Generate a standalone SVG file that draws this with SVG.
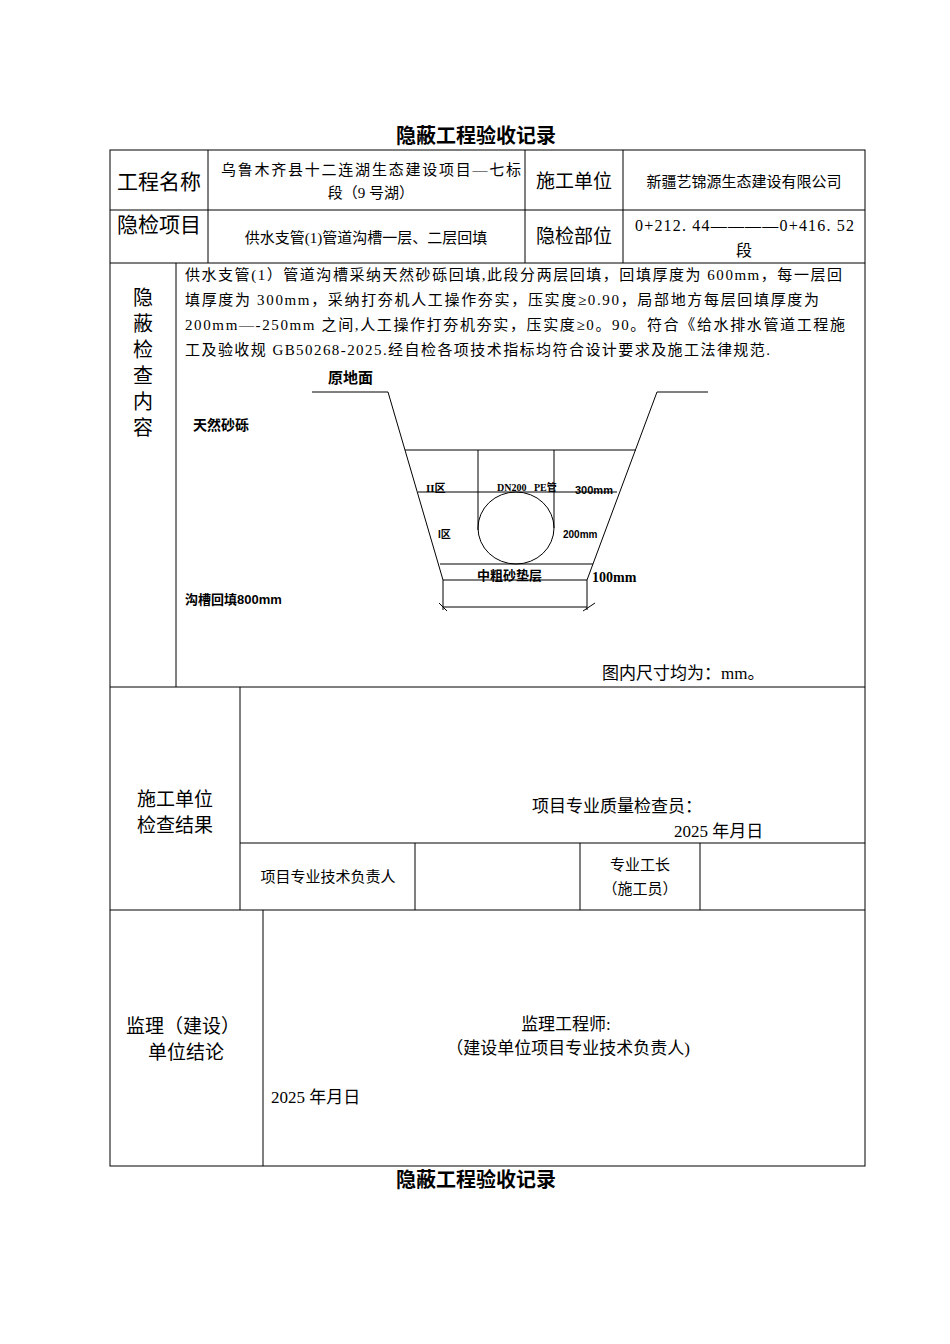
<svg xmlns="http://www.w3.org/2000/svg" width="950" height="1344" viewBox="0 0 950 1344">
<style>
.s{font-family:"Liberation Serif","Noto Sans CJK SC",serif;fill:#000}
.b{font-family:"Liberation Sans","Noto Sans CJK SC",sans-serif;font-weight:bold;fill:#000}
.l{stroke:#000;stroke-width:1;fill:none}
</style>
<rect width="950" height="1344" fill="#fff"/>
<text class="s" x="476" y="143" font-size="20" font-weight="bold" text-anchor="middle">隐蔽工程验收记录</text>
<g id="table" class="l">
<rect x="110" y="150" width="755" height="1016"/>
<line x1="110" y1="210" x2="865" y2="210"/>
<line x1="110" y1="263" x2="865" y2="263"/>
<line x1="110" y1="687" x2="865" y2="687"/>
<line x1="240" y1="843" x2="865" y2="843"/>
<line x1="110" y1="910" x2="865" y2="910"/>
<line x1="208" y1="150" x2="208" y2="263"/>
<line x1="525" y1="150" x2="525" y2="263"/>
<line x1="623" y1="150" x2="623" y2="263"/>
<line x1="176" y1="263" x2="176" y2="687"/>
<line x1="240" y1="687" x2="240" y2="910"/>
<line x1="415" y1="843" x2="415" y2="910"/>
<line x1="580" y1="843" x2="580" y2="910"/>
<line x1="700" y1="843" x2="700" y2="910"/>
<line x1="263" y1="910" x2="263" y2="1166"/>
</g>
<g id="texts" class="s">
<text x="159" y="189" font-size="21" text-anchor="middle">工程名称</text>
<text x="221" y="175" font-size="15" textLength="300">乌鲁木齐县十二连湖生态建设项目—七标</text>
<text x="371" y="198" font-size="15" text-anchor="middle">段（9 号湖）</text>
<text x="574" y="188" font-size="19" text-anchor="middle">施工单位</text>
<text x="744" y="187" font-size="15" text-anchor="middle">新疆艺锦源生态建设有限公司</text>
<text x="159" y="232" font-size="21" text-anchor="middle">隐检项目</text>
<text x="366" y="243" font-size="15" text-anchor="middle">供水支管(1)管道沟槽一层、二层回填</text>
<text x="574" y="243" font-size="19" text-anchor="middle">隐检部位</text>
<text x="635" y="231" font-size="16" textLength="219">0+212. 44————0+416. 52</text>
<text x="744" y="256" font-size="16" text-anchor="middle">段</text>
<g font-size="20" text-anchor="middle"><text x="143" y="305">隐</text><text x="143" y="331">蔽</text><text x="143" y="357">检</text><text x="143" y="383">查</text><text x="143" y="409">内</text><text x="143" y="435">容</text></g>
<g font-size="15"><text x="185" y="280" textLength="657">供水支管(1）管道沟槽采纳天然砂砾回填,此段分两层回填，回填厚度为 600mm，每一层回</text>
<text x="185" y="305" textLength="634">填厚度为 300mm，采纳打夯机人工操作夯实，压实度≥0.90，局部地方每层回填厚度为</text>
<text x="185" y="330" textLength="660">200mm—-250mm 之间,人工操作打夯机夯实，压实度≥0。90。符合《给水排水管道工程施</text>
<text x="185" y="355" textLength="585">工及验收规 GB50268-2025.经自检各项技术指标均符合设计要求及施工法律规范.</text></g>
<text x="602" y="679" font-size="17">图内尺寸均为：mm。</text>
<text x="175" y="806" font-size="19" text-anchor="middle">施工单位</text>
<text x="175" y="832" font-size="19" text-anchor="middle">检查结果</text>
<text x="532" y="812" font-size="17">项目专业质量检查员：</text>
<text x="674" y="837" font-size="17">2025 年月日</text>
<text x="328" y="882" font-size="15" text-anchor="middle">项目专业技术负责人</text>
<text x="640" y="870" font-size="15" text-anchor="middle">专业工长</text>
<text x="640" y="894" font-size="15" text-anchor="middle">（施工员）</text>
<text x="183" y="1033" font-size="19" text-anchor="middle">监理（建设）</text>
<text x="186" y="1059" font-size="19" text-anchor="middle">单位结论</text>
<text x="566" y="1030" font-size="17" text-anchor="middle">监理工程师:</text>
<text x="568" y="1054" font-size="17" text-anchor="middle">（建设单位项目专业技术负责人)</text>
<text x="271" y="1103" font-size="17">2025 年月日</text>
</g>
<g id="drawing" class="l">
<polyline points="312,392 388,392 443,580 587,580 657,392 708,392"/>
<line x1="405" y1="450" x2="636" y2="450"/>
<line x1="418" y1="492" x2="617" y2="492"/>
<line x1="440" y1="564" x2="593" y2="564"/>
<line x1="478" y1="450" x2="478" y2="530"/>
<line x1="554" y1="450" x2="554" y2="528"/>
<ellipse cx="516" cy="528" rx="38" ry="36"/>
<line x1="443" y1="580" x2="443" y2="610"/>
<line x1="587" y1="580" x2="587" y2="610"/>
<line x1="443" y1="607" x2="587" y2="607"/>
<line x1="439" y1="603" x2="447" y2="611"/>
<line x1="583" y1="611" x2="595" y2="603"/>
</g>
<g id="labels" class="b">
<text x="328" y="383" font-size="15">原地面</text>
<text x="193" y="430" font-size="14">天然砂砾</text>
<text x="426" y="492" font-size="11" class="s" font-weight="bold">II区</text>
<text x="497" y="491" font-size="10" class="s" font-weight="bold">DN200</text>
<text x="534" y="491" font-size="10" class="s" font-weight="bold">PE管</text>
<text x="575" y="494" font-size="11">300mm</text>
<text x="438" y="538" font-size="10">I区</text>
<text x="563" y="538" font-size="10">200mm</text>
<text x="477" y="580" font-size="13">中粗砂垫层</text>
<text x="592" y="582" font-size="14" class="s">100mm</text>
<text x="185" y="604" font-size="13">沟槽回填800mm</text>
</g>
<text class="s" x="476" y="1187" font-size="20" font-weight="bold" text-anchor="middle">隐蔽工程验收记录</text>
</svg>
